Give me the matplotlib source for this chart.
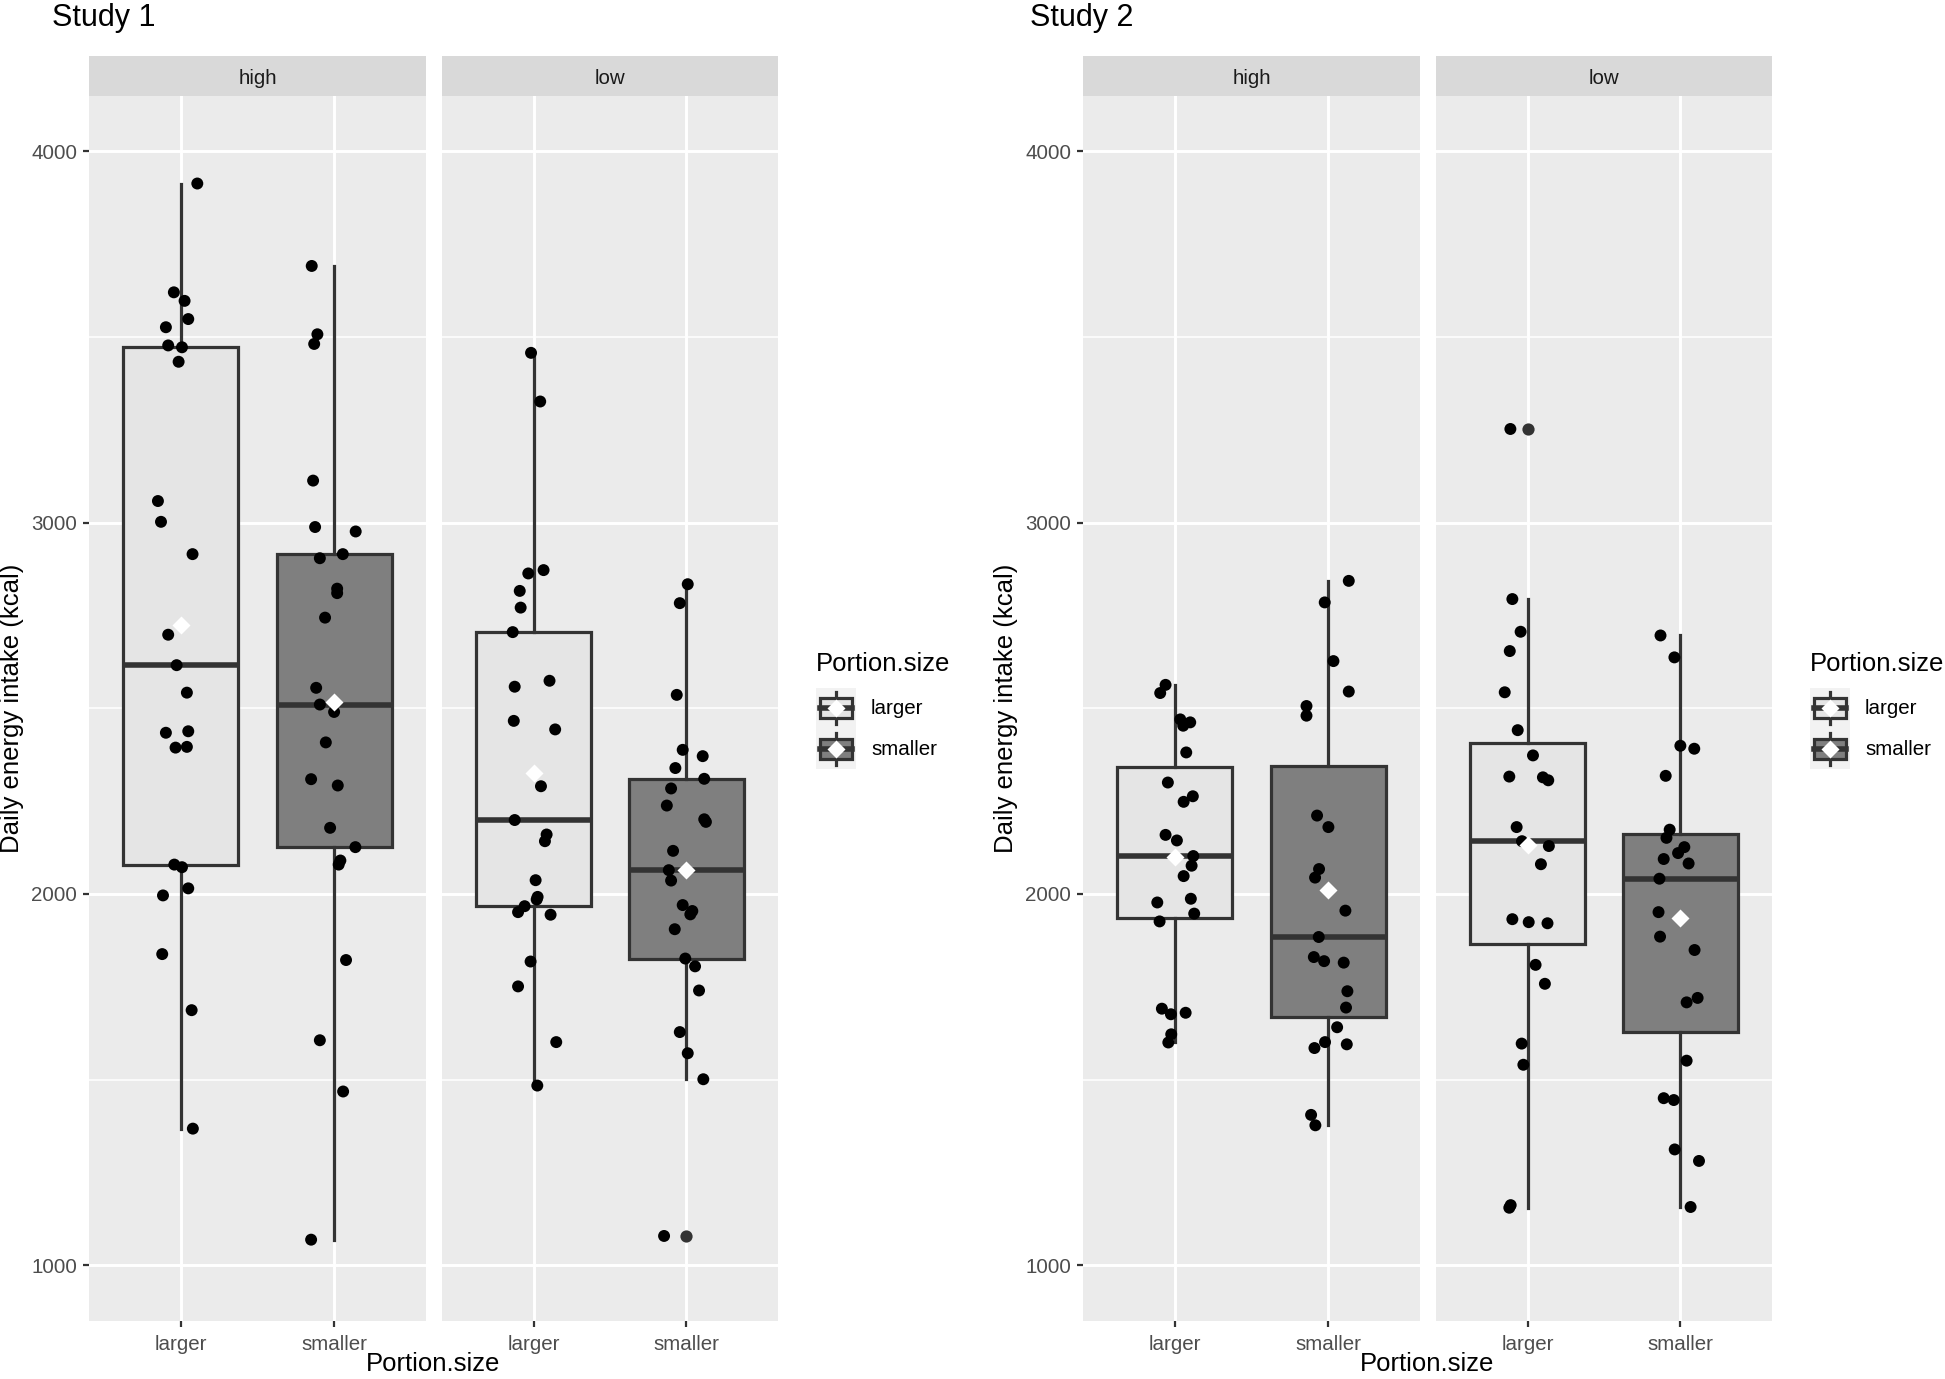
#! /usr/bin/env python3
import numpy as np
import matplotlib.pyplot as plt
from matplotlib.patches import Rectangle

plt.rcParams['font.family'] = ['Liberation Sans', 'DejaVu Sans']

W, H = 1945, 1379

studies = ['Study 1', 'Study 2']
facets = ['high', 'low']
groups = ['larger', 'smaller']
y_ticks = [1000, 2000, 3000, 4000]

# daily energy intake (kcal), plus horizontal jitter
s1_high_larger = [3913, 3620, 3597, 3548, 3526, 3477, 3472, 3433, 3058, 3002, 2915, 2698, 2616,
                  2542, 2438, 2434, 2396, 2394, 2079, 2072, 2015, 1996, 1838, 1687, 1368]
s1_high_larger_jit = [0.107, -0.046, 0.024, 0.048, -0.098, -0.083, 0.007, -0.015, -0.15, -0.13, 0.076,
                      -0.083, -0.028, 0.039, 0.048, -0.098, 0.039, -0.035, -0.043, 0.007, 0.048,
                      -0.117, -0.122, 0.07, 0.078]
s1_high_smaller = [3691, 3507, 3481, 3113, 2988, 2976, 2915, 2904, 2822, 2810, 2744, 2555, 2510,
                   2490, 2408, 2309, 2292, 2178, 2126, 2090, 2079, 1822, 1606, 1468, 1069]
s1_high_smaller_jit = [-0.146, -0.109, -0.13, -0.137, -0.124, 0.141, 0.057, -0.093, 0.02, 0.02, -0.059,
                       -0.117, -0.093, 0.0, -0.054, -0.15, 0.024, -0.026, 0.139, 0.041, 0.03, 0.078,
                       -0.093, 0.059, -0.15]
s1_low_larger = [3457, 3326, 2872, 2863, 2816, 2771, 2705, 2574, 2558, 2466, 2443, 2290, 2199,
                 2160, 2142, 2037, 1992, 1985, 1967, 1951, 1944, 1818, 1751, 1601, 1484]
s1_low_larger_jit = [-0.017, 0.043, 0.065, -0.035, -0.091, -0.085, -0.137, 0.104, -0.124, -0.13, 0.141,
                     0.048, -0.124, 0.085, 0.074, 0.013, 0.026, 0.02, -0.059, -0.102, 0.111, -0.02,
                     -0.102, 0.148, 0.024]
s1_low_smaller = [2834, 2783, 2536, 2388, 2371, 2339, 2310, 2284, 2238, 2201, 2194, 2116, 2064,
                  2036, 1970, 1954, 1945, 1905, 1826, 1805, 1740, 1628, 1571, 1501, 1079]
s1_low_smaller_jit = [0.009, -0.043, -0.063, -0.024, 0.107, -0.072, 0.117, -0.1, -0.128, 0.117, 0.128,
                      -0.087, -0.115, -0.1, -0.024, 0.039, 0.026, -0.076, -0.007, 0.057, 0.083,
                      -0.043, 0.009, 0.111, -0.146]

s2_high_larger = [2563, 2541, 2470, 2462, 2453, 2381, 2300, 2263, 2248, 2159, 2144, 2102, 2076,
                  2048, 1987, 1977, 1947, 1926, 1691, 1680, 1676, 1622, 1600]
s2_high_larger_jit = [-0.061, -0.096, 0.035, 0.1, 0.054, 0.074, -0.046, 0.117, 0.057, -0.061, 0.013,
                      0.12, 0.109, 0.057, 0.104, -0.115, 0.126, -0.1, -0.085, 0.07, -0.026, -0.024,
                      -0.043]
s2_high_smaller = [2843, 2785, 2627, 2545, 2506, 2480, 2211, 2180, 2067, 2044, 1955, 1884, 1830,
                   1819, 1815, 1738, 1694, 1641, 1601, 1595, 1585, 1405, 1377]
s2_high_smaller_jit = [0.135, -0.022, 0.035, 0.135, -0.141, -0.141, -0.072, 0.002, -0.059, -0.085, 0.113,
                       -0.061, -0.093, -0.026, 0.102, 0.126, 0.117, 0.059, -0.02, 0.122, -0.089,
                       -0.111, -0.083]
s2_low_larger = [3252, 2794, 2706, 2654, 2543, 2441, 2373, 2316, 2314, 2306, 2180, 2142, 2129,
                 2080, 1932, 1924, 1921, 1809, 1758, 1597, 1540, 1162, 1155]
s2_low_larger_jit = [-0.113, -0.1, -0.046, -0.117, -0.15, -0.065, 0.035, -0.12, 0.1, 0.135, -0.072,
                     -0.037, 0.139, 0.087, -0.1, 0.007, 0.13, 0.052, 0.113, -0.039, -0.028, -0.111,
                     -0.12]
s2_low_smaller = [2696, 2637, 2399, 2391, 2318, 2173, 2151, 2126, 2110, 2094, 2082, 2041, 1951,
                  1885, 1849, 1720, 1708, 1551, 1450, 1445, 1312, 1281, 1157]
s2_low_smaller_jit = [-0.13, -0.039, 0.0, 0.091, -0.096, -0.07, -0.091, 0.026, -0.015, -0.109, 0.054,
                      -0.137, -0.143, -0.133, 0.093, 0.113, 0.041, 0.041, -0.109, -0.043, -0.037,
                      0.122, 0.067]

fills = {'larger': '#E5E5E5', 'smaller': '#7F7F7F'}
dark = '#333333'


def px_axes(fig, x0, y0, x1, y1):
    return fig.add_axes([x0 / W, 1 - y1 / H, (x1 - x0) / W, (y1 - y0) / H])


def draw_panel(ax, vals, jits, show_y):
    ax.set_facecolor('#EBEBEB')
    for y in [1500, 2500, 3500]:
        ax.axhline(y, color='white', lw=1.1, zorder=0)
    for y in y_ticks:
        ax.axhline(y, color='white', lw=2.1, zorder=0)
    for x in [1, 2]:
        ax.axvline(x, color='white', lw=2.1, zorder=0)

    bp = ax.boxplot(vals, positions=[1, 2], widths=0.75, patch_artist=True, showcaps=False,
                    whis=1.5, zorder=2,
                    boxprops=dict(edgecolor=dark, linewidth=2.3),
                    whiskerprops=dict(color=dark, linewidth=2.3),
                    medianprops=dict(color=dark, linewidth=4.0),
                    flierprops=dict(marker='o', markerfacecolor=dark, markeredgecolor='none',
                                    markersize=8.8))
    for patch, g in zip(bp['boxes'], groups):
        patch.set_facecolor(fills[g])

    for i in range(2):
        ax.scatter(np.array(jits[i]) + i + 1, vals[i], s=74, color='black',
                   edgecolors='none', zorder=4)
        ax.plot(i + 1, np.mean(vals[i]), marker='D', markersize=9.5, color='white',
                markeredgecolor='none', zorder=5)

    ax.set_xlim(0.4, 2.6)
    ax.set_ylim(850, 4150)
    ax.set_xticks([1, 2])
    ax.set_xticklabels(groups)
    ax.set_yticks(y_ticks)
    if show_y:
        ax.set_yticklabels([str(t) for t in y_ticks])
    else:
        ax.set_yticklabels([])
    ax.tick_params(colors=dark, labelcolor='#4D4D4D', labelsize=14.8, length=4.5, width=1.6)
    ax.tick_params(axis='x', pad=5.5)
    ax.tick_params(axis='y', pad=4)
    if not show_y:
        ax.tick_params(axis='y', length=0)
    for s in ax.spines.values():
        s.set_visible(False)


def draw_strip(fig, x0, x1, label):
    sax = px_axes(fig, x0, 56, x1, 95.5)
    sax.set_facecolor('#D9D9D9')
    sax.set_xticks([])
    sax.set_yticks([])
    for s in sax.spines.values():
        s.set_visible(False)
    sax.text(0.5, 0.44, label, ha='center', va='center', fontsize=14.8, color='#1A1A1A',
             transform=sax.transAxes)


def draw_legend(fig, x0):
    fig.text(x0 / W, 1 - 664 / H, 'Portion.size', ha='left', va='center', fontsize=18.5)
    for k, g in enumerate(groups):
        top = 688 + k * 40.5
        kax = px_axes(fig, x0, top, x0 + 40, top + 40.5)
        kax.set_xlim(0, 1)
        kax.set_ylim(0, 1)
        kax.set_facecolor('#F2F2F2')
        kax.set_xticks([])
        kax.set_yticks([])
        for s in kax.spines.values():
            s.set_visible(False)
        kax.plot([0.5, 0.5], [0.1, 0.25], color=dark, lw=2.3)
        kax.plot([0.5, 0.5], [0.75, 0.9], color=dark, lw=2.3)
        kax.add_patch(Rectangle((0.1, 0.25), 0.8, 0.5, facecolor=fills[g], edgecolor=dark, lw=2.3))
        kax.plot([0.1, 0.9], [0.5, 0.5], color=dark, lw=4.0)
        kax.plot(0.5, 0.5, marker='D', markersize=9.5, color='white', markeredgecolor='none')
        fig.text((x0 + 55) / W, 1 - (top + 21) / H, g, ha='left', va='center', fontsize=14.8)


def main():
    fig = plt.figure(figsize=(W / 100, H / 100), dpi=100)
    fig.patch.set_facecolor('white')

    data = {
        'Study 1': {'high': ([s1_high_larger, s1_high_smaller], [s1_high_larger_jit, s1_high_smaller_jit]),
                    'low': ([s1_low_larger, s1_low_smaller], [s1_low_larger_jit, s1_low_smaller_jit])},
        'Study 2': {'high': ([s2_high_larger, s2_high_smaller], [s2_high_larger_jit, s2_high_smaller_jit]),
                    'low': ([s2_low_larger, s2_low_smaller], [s2_low_larger_jit, s2_low_smaller_jit])},
    }

    title_x = {'Study 1': 52, 'Study 2': 1030}
    for si, study in enumerate(studies):
        off = si * 994
        panel_x = [(89 + off, 426 + off), (442 + off, 778 + off)]
        for fi, facet in enumerate(facets):
            x0, x1 = panel_x[fi]
            ax = px_axes(fig, x0, 95.5, x1, 1321)
            vals, jits = data[study][facet]
            draw_panel(ax, vals, jits, fi == 0)
            draw_strip(fig, x0, x1, facet)

        fig.text(title_x[study] / W, 1 - 26 / H, study, ha='left', va='baseline', fontsize=22)
        fig.text((12 + off) / W, 1 - 708 / H, 'Daily energy intake (kcal)', rotation=90,
                 ha='center', va='center', fontsize=18.5)
        fig.text((433.5 + off) / W, 1 - 1364 / H, 'Portion.size', ha='center', va='center',
                 fontsize=18.5)
        draw_legend(fig, 816 + off)

    plt.savefig('out.png', dpi=100)


main()
